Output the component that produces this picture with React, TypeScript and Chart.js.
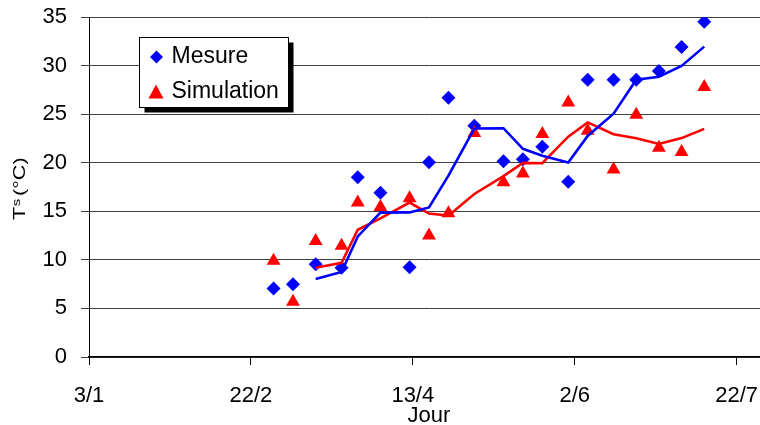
import React, { useEffect, useRef } from "react";
import { Chart, registerables } from "chart.js";

Chart.register(...registerables);

// Axis ticks (days since 3/1)
const xTickValues = [0, 50, 100, 150, 200];
const xTickLabels = ["3/1", "22/2", "13/4", "2/6", "22/7"];
const yTickValues = [0, 5, 10, 15, 20, 25, 30, 35];

// Observation days (days since 3/1)
const days = [57, 63, 70, 78, 83, 90, 99, 105, 111, 119, 128, 134, 140, 148, 154, 162, 169, 176, 183, 190];
// Measured surface temperature Ts (°C)
const mesure = [7.05, 7.5, 9.55, 9.2, 18.5, 16.9, 9.25, 20.05, 26.7, 23.8, 20.15, 20.35, 21.65, 18.05, 28.55, 28.55, 28.55, 29.45, 31.9, 34.5];
// Simulated surface temperature Ts (°C)
const simulation = [9.9, 5.7, 11.95, 11.45, 15.9, 15.45, 16.35, 12.5, 14.8, 23.05, 18.0, 18.9, 22.95, 26.2, 23.3, 19.3, 24.95, 21.55, 21.1, 27.8];

const MA_PERIOD = 3;
const FONT = "'Liberation Sans', Arial, sans-serif";
const BLUE = "#0000FF";
const RED = "#FF0000";

function movingAverage(xs: number[], ys: number[], period: number) {
  const out: { x: number; y: number }[] = [];
  for (let i = period - 1; i < ys.length; i++) {
    let s = 0;
    for (let k = i - period + 1; k <= i; k++) s += ys[k];
    out.push({ x: xs[i], y: s / period });
  }
  return out;
}

function toPoints(xs: number[], ys: number[]) {
  return xs.map((x, i) => ({ x, y: ys[i] }));
}

function zeroPadding(s: any) {
  s.paddingTop = 0;
  s.paddingBottom = 0;
  s.paddingLeft = 0;
  s.paddingRight = 0;
}

const overlayPlugin = {
  id: "overlay",
  afterDraw(chart: any) {
    const ctx = chart.ctx as CanvasRenderingContext2D;
    // ---- legend box ----
    ctx.save();
    const bx = 139.5, by = 37.5, bw = 149, bh = 70;
    ctx.fillStyle = "#000";
    ctx.fillRect(bx + 5, by + 5, bw, bh);
    ctx.fillStyle = "#fff";
    ctx.fillRect(bx, by, bw, bh);
    ctx.strokeStyle = "#000";
    ctx.lineWidth = 1;
    ctx.strokeRect(bx, by, bw, bh);
    // diamond
    const dx = 156.5, dy = 57, dr = 6.5;
    ctx.fillStyle = BLUE;
    ctx.beginPath();
    ctx.moveTo(dx, dy - dr);
    ctx.lineTo(dx + dr, dy);
    ctx.lineTo(dx, dy + dr);
    ctx.lineTo(dx - dr, dy);
    ctx.closePath();
    ctx.fill();
    // triangle
    const tx = 156, ty = 91.5, tw = 15, th = 14;
    ctx.fillStyle = RED;
    ctx.beginPath();
    ctx.moveTo(tx, ty - th / 2);
    ctx.lineTo(tx + tw / 2, ty + th / 2);
    ctx.lineTo(tx - tw / 2, ty + th / 2);
    ctx.closePath();
    ctx.fill();
    ctx.fillStyle = "#000";
    ctx.font = `23px ${FONT}`;
    ctx.textBaseline = "middle";
    ctx.textAlign = "left";
    ctx.fillText("Mesure", 171.5, 56.5);
    ctx.fillText("Simulation", 171.5, 91.5);
    ctx.restore();

    // ---- y-axis title: Ts(°C) ----
    ctx.save();
    ctx.translate(25, 220);
    ctx.rotate(-Math.PI / 2);
    ctx.scale(1.35, 1);
    ctx.fillStyle = "#000";
    ctx.textBaseline = "alphabetic";
    ctx.textAlign = "left";
    ctx.font = `16px ${FONT}`;
    ctx.fillText("T", 0, 0);
    let x = ctx.measureText("T").width + 0.5;
    ctx.font = `11px ${FONT}`;
    ctx.fillText("s", x, -5);
    x += ctx.measureText("s").width + 2;
    ctx.font = `16px ${FONT}`;
    ctx.fillText("(°C)", x, 0);
    ctx.restore();
  },
};

export default function App() {
  const ref = useRef<HTMLCanvasElement | null>(null);

  useEffect(() => {
    if (!ref.current) return;
    const chart = new Chart(ref.current, {
      type: "scatter",
      data: {
        datasets: [
          {
            label: "Mesure (moyenne mobile)",
            data: movingAverage(days, mesure, MA_PERIOD),
            showLine: true,
            borderColor: BLUE,
            borderWidth: 2.6,
            pointRadius: 0,
            tension: 0,
            fill: false,
          },
          {
            label: "Simulation (moyenne mobile)",
            data: movingAverage(days, simulation, MA_PERIOD),
            showLine: true,
            borderColor: RED,
            borderWidth: 2.6,
            pointRadius: 0,
            tension: 0,
            fill: false,
          },
          {
            label: "Simulation",
            data: toPoints(days, simulation),
            showLine: false,
            pointStyle: "triangle",
            pointRadius: 8,
            pointBackgroundColor: RED,
            pointBorderWidth: 0,
            pointBorderColor: RED,
          },
          {
            label: "Mesure",
            data: toPoints(days, mesure),
            showLine: false,
            pointStyle: "rectRot",
            pointRadius: 7,
            pointBackgroundColor: BLUE,
            pointBorderWidth: 0,
            pointBorderColor: BLUE,
          },
        ],
      },
      options: {
        animation: false,
        responsive: false,
        devicePixelRatio: 1,
        layout: { autoPadding: false, padding: { top: 17, right: 1, left: 0, bottom: 0 } },
        plugins: {
          legend: { display: false },
          tooltip: { enabled: false },
        },
        scales: {
          x: {
            type: "linear",
            min: 0,
            max: 210,
            afterBuildTicks: (s: any) => {
              s.ticks = xTickValues.map((v) => ({ value: v }));
            },
            afterFit: (s: any) => {
              s.height = 68;
              zeroPadding(s);
            },
            ticks: {
              autoSkip: false,
              maxRotation: 0,
              color: "#000",
              padding: 18,
              font: { family: FONT, size: 22 },
              callback: (v: any) => {
                const i = xTickValues.indexOf(Number(v));
                return i >= 0 ? xTickLabels[i] : "";
              },
            },
            grid: {
              drawOnChartArea: false,
              drawTicks: true,
              tickLength: 8,
              color: "#000",
              lineWidth: 1,
            },
            border: { display: true, color: "#000", width: 1.5 },
            title: {
              display: true,
              text: "Jour",
              color: "#000",
              font: { family: FONT, size: 22, lineHeight: 0.8 },
              padding: { top: 0, bottom: 0 },
            },
          },
          y: {
            min: 0,
            max: 35,
            afterBuildTicks: (s: any) => {
              s.ticks = yTickValues.map((v) => ({ value: v }));
            },
            afterFit: (s: any) => {
              s.width = 89;
              zeroPadding(s);
            },
            ticks: {
              color: "#000",
              padding: 14,
              font: { family: FONT, size: 22 },
            },
            grid: {
              color: "#404040",
              lineWidth: 1,
              drawTicks: true,
              tickLength: 8,
            },
            border: { display: true, color: "#000", width: 1 },
          },
        },
      },
      plugins: [overlayPlugin],
    });
    return () => chart.destroy();
  }, []);

  return (
    <div
      style={{
        position: "absolute",
        left: 0,
        top: 0,
        width: 760,
        height: 425,
        overflow: "hidden",
        background: "#fff",
      }}
    >
      <canvas ref={ref} width={770} height={425} style={{ display: "block" }} />
    </div>
  );
}
